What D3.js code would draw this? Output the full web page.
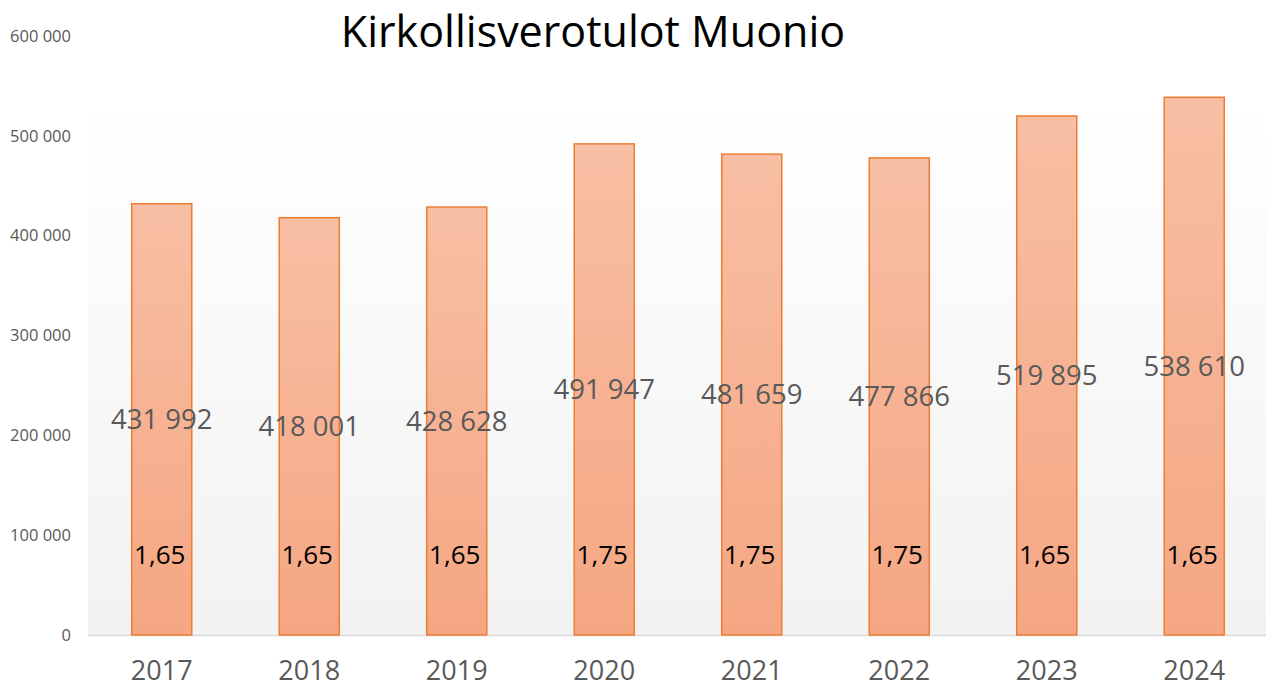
<!DOCTYPE html>
<html>
<head>
<meta charset="utf-8">
<script src="https://cdn.jsdelivr.net/npm/d3@7"></script>
<style>
  body { margin: 0; background: #fff; }
  text { font-family: "Open Sans", sans-serif; }
</style>
</head>
<body>
<div id="chart"></div>
<script>
var years = ["2017", "2018", "2019", "2020", "2021", "2022", "2023", "2024"];
var income = [431992, 418001, 428628, 491947, 481659, 477866, 519895, 538610];
var rates = ["1,65", "1,65", "1,65", "1,75", "1,75", "1,75", "1,65", "1,65"];
var yTicks = [0, 100000, 200000, 300000, 400000, 500000, 600000];

var width = 1266, height = 688;

var svg = d3.select("#chart")
    .append("svg")
    .attr("width", width)
    .attr("height", height);

var defs = svg.append("defs");

var bg = defs.append("linearGradient")
    .attr("id", "bg")
    .attr("x1", 0).attr("y1", 0).attr("x2", 0).attr("y2", 1);
bg.append("stop").attr("offset", "0%").attr("stop-color", "#ffffff");
bg.append("stop").attr("offset", "100%").attr("stop-color", "#f2f2f2");

var barFill = defs.append("linearGradient")
    .attr("id", "barFill")
    .attr("x1", 0).attr("y1", 0).attr("x2", 0).attr("y2", 1);
barFill.append("stop").attr("offset", "0%").attr("stop-color", "#f8bfa4");
barFill.append("stop").attr("offset", "100%").attr("stop-color", "#f5a682");

var x = d3.scaleBand()
    .domain(years)
    .range([88, 1268])
    .paddingInner(0.593)
    .paddingOuter(0.2965);

var y = d3.scaleLinear()
    .domain([0, 600000])
    .range([635, 36]);

// plot area background
svg.append("rect")
    .attr("x", 88)
    .attr("y", 105)
    .attr("width", width - 88)
    .attr("height", y(0) - 105)
    .attr("fill", "url(#bg)");

// baseline
svg.append("line")
    .attr("x1", 88).attr("x2", width)
    .attr("y1", y(0) + 0.5).attr("y2", y(0) + 0.5)
    .attr("stroke", "#d9d9d9")
    .attr("stroke-width", 1.5);

// y axis labels
var fmt = function (d) { return d3.format(",")(d).replace(/,/g, " "); };
svg.selectAll(".ytick")
    .data(yTicks)
    .enter()
    .append("text")
    .attr("class", "ytick")
    .attr("x", 71)
    .attr("y", function (d) { return y(d); })
    .attr("dy", "0.35em")
    .attr("text-anchor", "end")
    .attr("font-size", 16.5)
    .attr("fill", "#595959")
    .text(fmt);

// bars
svg.selectAll(".bar")
    .data(income)
    .enter()
    .append("rect")
    .attr("class", "bar")
    .attr("x", function (d, i) { return x(years[i]); })
    .attr("y", function (d) { return y(d); })
    .attr("width", x.bandwidth())
    .attr("height", function (d) { return y(0) - y(d); })
    .attr("fill", "url(#barFill)")
    .attr("stroke", "#ed7d31")
    .attr("stroke-width", 1.5);

// value labels in the middle of bars
svg.selectAll(".val")
    .data(income)
    .enter()
    .append("text")
    .attr("class", "val")
    .attr("x", function (d, i) { return x(years[i]) + x.bandwidth() / 2; })
    .attr("y", function (d) { return (y(d) + y(0)) / 2; })
    .attr("dy", "0.35em")
    .attr("text-anchor", "middle")
    .attr("font-size", 27.5)
    .attr("fill", "#595959")
    .text(fmt);

// tax rate labels
svg.selectAll(".rate")
    .data(rates)
    .enter()
    .append("text")
    .attr("class", "rate")
    .attr("x", function (d, i) { return x(years[i]) + x.bandwidth() / 2 - 2; })
    .attr("y", y(80000))
    .attr("dy", "0.35em")
    .attr("text-anchor", "middle")
    .attr("font-size", 26)
    .attr("fill", "#000")
    .text(function (d) { return d; });

// x labels
svg.selectAll(".year")
    .data(years)
    .enter()
    .append("text")
    .attr("class", "year")
    .attr("x", function (d) { return x(d) + x.bandwidth() / 2; })
    .attr("y", 680)
    .attr("text-anchor", "middle")
    .attr("font-size", 27)
    .attr("fill", "#595959")
    .text(function (d) { return d; });

// title
svg.append("text")
    .attr("x", 593)
    .attr("y", 47)
    .attr("text-anchor", "middle")
    .attr("font-size", 43)
    .attr("fill", "#000")
    .text("Kirkollisverotulot Muonio");
</script>
</body>
</html>
